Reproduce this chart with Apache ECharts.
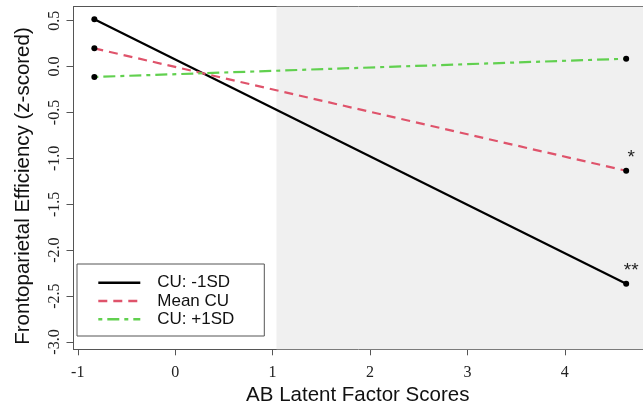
<!DOCTYPE html>
<html>
<head>
<meta charset="utf-8">
<script src="https://cdn.jsdelivr.net/npm/echarts@6/dist/echarts.min.js"></script>
<style>
  html, body { margin: 0; padding: 0; background: #fff; }
  #chart { width: 643px; height: 404px; }
</style>
</head>
<body>
<div id="chart"></div>
<script>
// values
const xPoints = [-0.83, 4.63]
const lowCU = [0.515, -2.366]
const meanCU = [0.199, -1.135]
const highCU = [-0.113, 0.086]
const lowSig = ['', '**']
const meanSig = ['', '*']
const highSig = ['', '']
const shadeStart = 1.04
const xTicks = [-1, 0, 1, 2, 3, 4]
const yTicks = [-3, -2.5, -2, -1.5, -1, -0.5, 0, 0.5]
const seriesNames = ['CU: -1SD', 'Mean CU', 'CU: +1SD']

const sans = 'Liberation Sans, Arial, sans-serif'
const serif = 'Liberation Serif, Times New Roman, serif'
const boxColor = '#555'
const xMin = -1.044
const xMax = 4.854

function makeSeries(name, values, sig, color, type, extra) {
  return Object.assign({
    name: name,
    type: 'line',
    xAxisIndex: 0,
    data: xPoints.map((x, i) => [x, values[i]]),
    symbol: 'circle',
    symbolSize: 6,
    color: color,
    lineStyle: { color: color, width: 2.2, type: type },
    itemStyle: { color: '#000' },
    label: {
      show: true,
      position: 'top',
      distance: 4,
      offset: [5, 3.5],
      formatter: p => sig[p.dataIndex],
      fontFamily: sans,
      fontSize: 19,
      color: '#222'
    },
    emphasis: { disabled: true },
    animation: false,
    z: 3
  }, extra || {})
}

const chart = echarts.init(document.getElementById('chart'))
chart.setOption({
  backgroundColor: '#fff',
  animation: false,
  grid: {
    left: 73.5,
    top: 6.7,
    width: 574.5,
    height: 342.6,
    show: false,
    containLabel: false,
    outerBoundsMode: 'none'
  },
  xAxis: [
    {
      type: 'value',
      position: 'bottom',
      min: xMin,
      max: xMax,
      axisLine: { show: true, onZero: false, lineStyle: { color: boxColor, width: 1 } },
      splitLine: { show: false },
      axisTick: {
        show: true,
        customValues: xTicks,
        length: 6,
        lineStyle: { color: boxColor }
      },
      axisLabel: {
        customValues: xTicks,
        fontFamily: serif,
        fontSize: 16,
        color: '#222',
        margin: 15
      },
      name: 'AB Latent Factor Scores',
      nameLocation: 'middle',
      nameGap: 19,
      nameTextStyle: {
        fontFamily: sans,
        fontSize: 20.5,
        color: '#111',
        padding: [0, 6, 0, 0]
      }
    },
    {
      type: 'value',
      position: 'top',
      min: xMin,
      max: xMax,
      axisLine: { show: true, onZero: false, lineStyle: { color: boxColor, width: 1 } },
      axisTick: { show: false },
      axisLabel: { show: false },
      splitLine: { show: false }
    }
  ],
  yAxis: {
    type: 'value',
    min: -3.0795,
    max: 0.6525,
    axisLine: { show: true, onZero: false, lineStyle: { color: boxColor, width: 1 } },
    splitLine: { show: false },
    axisTick: {
      show: true,
      customValues: yTicks,
      length: 7,
      lineStyle: { color: boxColor }
    },
    axisLabel: {
      customValues: yTicks,
      rotate: 90,
      formatter: v => Number(v).toFixed(1),
      fontFamily: serif,
      fontSize: 16,
      color: '#222',
      margin: 11
    },
    name: 'Frontoparietal Efficiency (z-scored)',
    nameLocation: 'middle',
    nameGap: 40,
    nameTextStyle: {
      fontFamily: sans,
      fontSize: 20.5,
      color: '#111',
      padding: [0, 16, 0, 0]
    }
  },
  legend: {
    orient: 'vertical',
    left: 77,
    top: 264,
    padding: [10.2, 30, 8.2, 20],
    itemWidth: 42,
    itemHeight: 14,
    itemGap: 1.3,
    backgroundColor: '#fff',
    borderColor: boxColor,
    borderWidth: 1,
    selectedMode: false,
    itemStyle: { opacity: 0 },
    lineStyle: { width: 2.6 },
    textStyle: {
      fontFamily: sans,
      fontSize: 17,
      color: '#111',
      padding: [0, 0, 0, 12]
    },
    data: seriesNames
  },
  series: [
    makeSeries(seriesNames[0], lowCU, lowSig, '#000000', 'solid', {
      markArea: {
        silent: true,
        itemStyle: { color: '#f0f0f0' },
        data: [[{ xAxis: shadeStart }, { xAxis: xMax }]]
      }
    }),
    makeSeries(seriesNames[1], meanCU, meanSig, '#DF536B', [9, 6]),
    makeSeries(seriesNames[2], highCU, highSig, '#61D04F', [4, 5, 12, 5])
  ]
})
</script>
</body>
</html>
